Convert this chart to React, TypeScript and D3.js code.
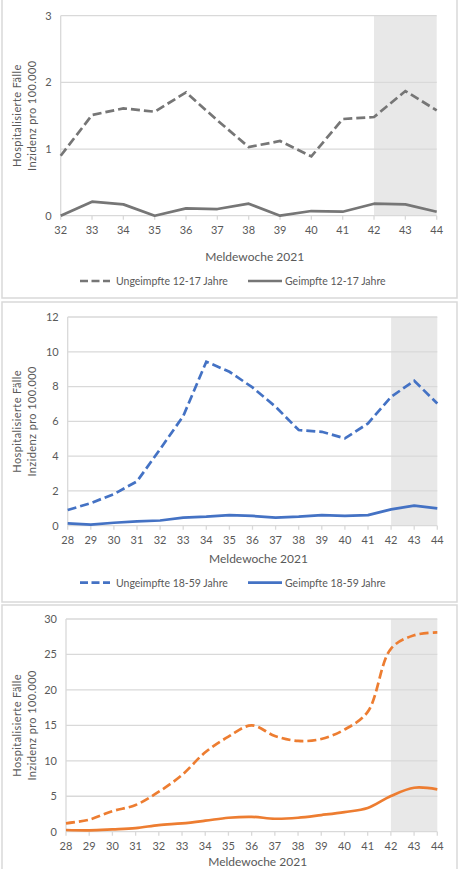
import React from "react";
import * as d3 from "d3";

const weeksA = [32, 33, 34, 35, 36, 37, 38, 39, 40, 41, 42, 43, 44];
const unvacA = [0.9, 1.51, 1.61, 1.56, 1.85, 1.43, 1.03, 1.12, 0.89, 1.45, 1.48, 1.87, 1.58];
const vacA = [0.0, 0.21, 0.17, 0.0, 0.11, 0.1, 0.18, 0.0, 0.07, 0.06, 0.18, 0.17, 0.06];
const yTicksA = [0, 1, 2, 3];

const weeksB = [28, 29, 30, 31, 32, 33, 34, 35, 36, 37, 38, 39, 40, 41, 42, 43, 44];
const unvacB = [0.9, 1.3, 1.82, 2.55, 4.4, 6.3, 9.43, 8.85, 7.95, 6.84, 5.5, 5.4, 5.02, 5.88, 7.41, 8.33, 7.03];
const vacB = [0.13, 0.06, 0.17, 0.25, 0.3, 0.46, 0.52, 0.61, 0.56, 0.46, 0.52, 0.61, 0.56, 0.61, 0.94, 1.15, 1.0];
const yTicksB = [0, 2, 4, 6, 8, 10, 12];

const weeksC = [28, 29, 30, 31, 32, 33, 34, 35, 36, 37, 38, 39, 40, 41, 42, 43, 44];
const unvacC = [1.18, 1.7, 2.9, 3.76, 5.64, 8.0, 11.2, 13.4, 15.0, 13.5, 12.8, 13.07, 14.4, 16.9, 25.8, 27.7, 28.1];
const vacC = [0.24, 0.2, 0.33, 0.5, 0.94, 1.18, 1.55, 1.97, 2.1, 1.83, 1.97, 2.35, 2.77, 3.34, 5.03, 6.2, 5.97];
const yTicksC = [0, 5, 10, 15, 20, 25, 30];

const FONT = "Lato, 'Open Sans', sans-serif";
const TEXT = "#595959";
const GRID = "#d9d9d9";

type PanelProps = {
  frameTop: number;
  frameBottom: number;
  x0: number;
  x1: number;
  yTop: number;
  yBottom: number;
  weeks: number[];
  unvac: number[];
  vac: number[];
  yTicks: number[];
  color: string;
  curve: d3.CurveFactory;
  legend?: [string, string];
  tickBaseline: number;
  titleBaseline: number;
  legendY?: number;
};

function Panel(p: PanelProps) {
  const x = d3.scaleLinear().domain([p.weeks[0], p.weeks[p.weeks.length - 1]]).range([p.x0, p.x1]);
  const y = d3.scaleLinear().domain([0, p.yTicks[p.yTicks.length - 1]]).range([p.yBottom, p.yTop]);
  const line = d3
    .line<number>()
    .x((_, i) => x(p.weeks[i]))
    .y((d) => y(d))
    .curve(p.curve);
  const shadeX = x(42);
  const midY = (p.yTop + p.yBottom) / 2;
  return (
    <g>
      <rect x={2} y={p.frameTop} width={455} height={p.frameBottom - p.frameTop} fill="#fff" stroke={GRID} strokeWidth={1.5} />
      <rect x={shadeX} y={p.yTop} width={p.x1 - shadeX} height={p.yBottom - p.yTop} fill="#e8e8e8" />
      {p.yTicks.map((t) => (
        <g key={t}>
          {t > 0 && <line x1={p.x0} x2={p.x1} y1={y(t)} y2={y(t)} stroke={GRID} strokeWidth={1.3} />}
          <text x={p.x0 - 9} y={y(t) + 3.8} textAnchor="end" fontSize={11} fill={TEXT} fontFamily={FONT}>
            {t}
          </text>
        </g>
      ))}
      <line x1={p.x0} x2={p.x1} y1={p.yBottom} y2={p.yBottom} stroke={GRID} strokeWidth={1.3} />
      <line x1={p.x0} x2={p.x0} y1={p.yTop} y2={p.yBottom} stroke={GRID} strokeWidth={1.3} />
      {p.weeks.map((w) => (
        <g key={w}>
          <line x1={x(w)} x2={x(w)} y1={p.yBottom} y2={p.yBottom + 4} stroke={GRID} strokeWidth={1.3} />
          <text x={x(w)} y={p.tickBaseline} textAnchor="middle" fontSize={11} fill={TEXT} fontFamily={FONT}>
            {w}
          </text>
        </g>
      ))}
      <text x={(p.x0 + p.x1) / 2 + 6} y={p.titleBaseline} textAnchor="middle" fontSize={12} fill={TEXT} fontFamily={FONT}>
        Meldewoche 2021
      </text>
      <text transform={`translate(21,${midY}) rotate(-90)`} textAnchor="middle" fontSize={11} fill={TEXT} fontFamily={FONT} letterSpacing={0.4}>
        Hospitalisierte Fälle
      </text>
      <text transform={`translate(36,${midY}) rotate(-90)`} textAnchor="middle" fontSize={11} fill={TEXT} fontFamily={FONT} letterSpacing={0.4}>
        Inzidenz pro 100.000
      </text>
      <path d={line(p.vac) ?? ""} fill="none" stroke={p.color} strokeWidth={2.7} strokeLinejoin="round" />
      <path d={line(p.unvac) ?? ""} fill="none" stroke={p.color} strokeWidth={2.7} strokeDasharray="9 4" />
      {p.legend && p.legendY !== undefined && (
        <g>
          <line x1={80} x2={110} y1={p.legendY} y2={p.legendY} stroke={p.color} strokeWidth={2.7} strokeDasharray="8 3.5" />
          <text x={116} y={p.legendY + 3.8} fontSize={10.5} fill={TEXT} fontFamily={FONT}>
            {p.legend[0]}
          </text>
          <line x1={248} x2={282} y1={p.legendY} y2={p.legendY} stroke={p.color} strokeWidth={2.7} />
          <text x={285} y={p.legendY + 3.8} fontSize={10.5} fill={TEXT} fontFamily={FONT}>
            {p.legend[1]}
          </text>
        </g>
      )}
    </g>
  );
}

export default function App() {
  return (
    <svg width={464} height={869} style={{ position: "absolute", left: 0, top: 0 }}>
      <rect width={464} height={869} fill="#fff" />
      <Panel
        frameTop={-1}
        frameBottom={298}
        x0={60.7}
        x1={436.7}
        yTop={15.7}
        yBottom={215.7}
        weeks={weeksA}
        unvac={unvacA}
        vac={vacA}
        yTicks={yTicksA}
        color="#767676"
        curve={d3.curveLinear}
        legend={["Ungeimpfte 12-17 Jahre", "Geimpfte 12-17 Jahre"]}
        tickBaseline={234}
        titleBaseline={261}
        legendY={281}
      />
      <Panel
        frameTop={302}
        frameBottom={602}
        x0={67.7}
        x1={437.3}
        yTop={317}
        yBottom={525.7}
        weeks={weeksB}
        unvac={unvacB}
        vac={vacB}
        yTicks={yTicksB}
        color="#4472c4"
        curve={d3.curveLinear}
        legend={["Ungeimpfte 18-59 Jahre", "Geimpfte 18-59 Jahre"]}
        tickBaseline={544}
        titleBaseline={563}
        legendY={582.7}
      />
      <Panel
        frameTop={605}
        frameBottom={890}
        x0={66}
        x1={437.3}
        yTop={619}
        yBottom={831.7}
        weeks={weeksC}
        unvac={unvacC}
        vac={vacC}
        yTicks={yTicksC}
        color="#ed7d31"
        curve={d3.curveCatmullRom.alpha(0.5)}
        tickBaseline={849.5}
        titleBaseline={866}
      />
    </svg>
  );
}
